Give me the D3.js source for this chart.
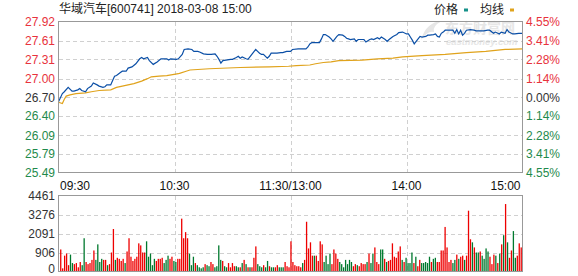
<!DOCTYPE html>
<html>
<head>
<meta charset="utf-8">
<title>华域汽车 分时</title>
<script src="https://cdn.jsdelivr.net/npm/d3@7"></script>
<style>
  body { margin: 0; background: #fff; }
  text { font-family: "Liberation Sans", Arial, "Noto Sans CJK SC", sans-serif; font-size: 12px; }
</style>
</head>
<body>
<div id="chart"></div>
<script>
// ---- data ----
const title = "华域汽车[600741] 2018-03-08 15:00";
const prevClose = 26.70;
const priceTicks = [27.92, 27.61, 27.31, 27.00, 26.70, 26.40, 26.09, 25.79, 25.49];
const pctTicks = ["4.55%", "3.41%", "2.28%", "1.14%", "0.00%", "1.14%", "2.28%", "3.41%", "4.55%"];
const volTicks = [0, 906, 2091, 3276, 4461];
const timeMinutes = [0, 60, 120, 180, 240];
const timeLabels = ["09:30", "10:30", "11:30/13:00", "14:00", "15:00"];

// [minute, price]
const pricePoints = [
  [0,26.63],[2,26.76],[3,26.79],[5,26.86],[7,26.80],[8,26.80],[10,26.82],[11,26.84],[12,26.81],[14,26.79],
  [15,26.84],[17,26.88],[18,26.93],[20,26.90],[21,26.88],[23,26.86],[24,26.87],[25,26.90],[27,26.90],[28,26.97],
  [29,27.04],[30,27.05],[32,27.10],[33,27.12],[35,27.12],[36,27.17],[38,27.19],[40,27.24],[42,27.32],[43,27.34],
  [44,27.32],[46,27.34],[47,27.29],[49,27.23],[51,27.27],[53,27.32],[56,27.32],[57,27.30],[58,27.32],[61,27.31],
  [62,27.32],[64,27.39],[65,27.47],[67,27.48],[69,27.47],[70,27.44],[72,27.44],[73,27.43],[75,27.40],[77,27.39],
  [79,27.39],[81,27.40],[82,27.36],[83,27.31],[84,27.25],[85,27.29],[89,27.31],[90,27.31],[92,27.34],[93,27.36],
  [94,27.33],[95,27.35],[97,27.32],[98,27.31],[99,27.35],[100,27.39],[102,27.47],[103,27.44],[104,27.41],[105,27.39],
  [106,27.39],[108,27.33],[109,27.36],[110,27.41],[113,27.41],[115,27.42],[116,27.42],[118,27.44],[120,27.44],[121,27.47],
  [124,27.48],[128,27.48],[129,27.51],[130,27.56],[131,27.58],[132,27.58],[135,27.58],[136,27.64],[137,27.71],[138,27.71],
  [140,27.67],[141,27.64],[142,27.60],[143,27.64],[144,27.68],[145,27.71],[147,27.70],[148,27.68],[149,27.65],[150,27.64],
  [151,27.63],[153,27.64],[154,27.60],[155,27.63],[157,27.63],[158,27.63],[159,27.59],[161,27.63],[162,27.64],[163,27.63],
  [165,27.66],[166,27.64],[167,27.67],[169,27.63],[170,27.60],[171,27.63],[173,27.68],[175,27.71],[176,27.74],[178,27.75],
  [180,27.72],[181,27.72],[182,27.67],[183,27.62],[184,27.56],[185,27.60],[186,27.64],[187,27.68],[188,27.67],[190,27.68],
  [191,27.70],[192,27.70],[194,27.71],[195,27.72],[196,27.68],[197,27.67],[198,27.73],[199,27.75],[200,27.78],[203,27.78],
  [204,27.78],[205,27.73],[206,27.79],[207,27.72],[208,27.78],[209,27.70],[210,27.73],[211,27.78],[213,27.79],[215,27.78],
  [216,27.77],[220,27.77],[222,27.78],[223,27.78],[225,27.73],[226,27.75],[228,27.72],[229,27.75],[231,27.73],[232,27.79],
  [233,27.75],[235,27.72],[236,27.72],[238,27.73],[240,27.73]
];

// [minute, average price]
const avgPoints = [
  [0,26.62],[2,26.60],[3,26.67],[4,26.72],[6,26.74],[9,26.76],[14,26.77],[17,26.79],[21,26.81],[27,26.82],
  [30,26.86],[33,26.88],[39,26.92],[43,26.96],[46,27.00],[48,27.03],[52,27.04],[56,27.05],[62,27.08],[63,27.09],
  [66,27.12],[68,27.14],[78,27.16],[94,27.18],[109,27.19],[119,27.20],[123,27.21],[130,27.22],[133,27.24],[137,27.26],
  [141,27.27],[145,27.29],[157,27.30],[165,27.32],[173,27.33],[178,27.35],[182,27.36],[188,27.37],[200,27.39],[211,27.42],
  [221,27.44],[231,27.47],[240,27.48]
];

const volumes = [
  1096,151,755,856,302,805,403,352,403,201,453,302,1795,453,352,403,554,1033,554,1414,
  453,604,554,554,302,352,906,2371,554,654,604,503,604,403,970,1795,705,503,604,705,
  1477,1350,906,906,1604,705,856,302,604,503,604,604,654,403,554,755,604,705,503,453,
  604,604,3018,1795,2177,1795,856,302,705,403,302,201,151,201,352,302,252,453,352,201,
  252,1350,554,503,252,201,403,201,403,252,252,201,201,403,554,352,201,201,201,654,
  1287,352,252,201,302,201,503,252,201,201,201,302,201,201,201,453,252,201,
  1604,453,302,252,252,201,403,554,2824,1160,1541,755,755,755,503,1604,1414,453,755,352,
  856,352,1096,856,604,453,352,201,554,352,554,453,252,352,302,252,403,352,352,453,
  856,403,856,1223,453,352,1096,1096,604,453,503,554,1477,705,654,970,1287,554,453,654,
  403,403,906,403,705,252,554,403,403,453,403,705,453,604,654,453,453,1033,1033,2500,
  1223,453,554,403,554,805,604,705,755,554,755,3513,1731,1541,1223,906,906,970,755,604,
  1160,970,705,352,805,755,403,856,1414,1985,3928,1541,654,1033,2242,654,755,1477,1223
];
// 1 = up (red), 0 = down (green)
const volUp = [
  1,1,1,1,1,0,0,1,1,1,1,0,0,1,1,1,1,1,0,0,
  0,0,1,1,0,1,1,1,0,1,1,1,1,0,1,1,1,1,1,1,
  1,1,1,1,0,0,0,0,0,1,1,1,1,0,0,0,1,1,0,0,
  1,1,1,1,1,1,0,0,0,1,0,0,0,0,1,0,0,1,1,0,
  0,0,0,1,0,0,1,1,1,1,0,0,1,0,1,0,1,0,1,1,
  1,0,0,0,1,0,0,1,0,0,1,1,0,0,0,1,1,1,
  1,1,1,1,1,1,0,1,1,1,1,1,0,1,1,1,1,0,0,0,
  0,1,1,1,1,0,0,0,0,0,0,0,1,1,0,1,1,1,1,0,
  1,0,0,1,1,1,0,0,1,0,1,1,1,1,1,1,1,0,1,0,
  0,0,0,1,0,1,1,0,0,0,0,0,1,0,0,1,1,1,1,1,
  1,1,1,0,0,1,0,1,1,0,1,1,1,0,1,0,0,1,0,0,
  0,0,1,1,1,0,1,0,1,0,1,0,1,1,0,0,1,1,1
];

// ---- layout ----
const W = 578, H = 276;
const left = 58.5, right = 522.5;
const priceTop = 21.5, priceBottom = 172.5;
const volTop = 195.5, volBottom = 271.5;
const red = "#e8323c", green = "#1f8a4c", gray = "#333";
const lineBlue = "#0b4fa6", avgGold = "#e0a31c";

const svg = d3.select("#chart").append("svg")
  .attr("width", W).attr("height", H);

const x = d3.scaleLinear().domain([0, 240]).range([left, right]);
const y = d3.scaleLinear().domain([priceTicks[priceTicks.length - 1], priceTicks[0]]).range([priceBottom, priceTop]);
const yv = d3.scaleLinear().domain(volTicks)
  .range(volTicks.map((d, i) => volBottom - i * (volBottom - volTop) / (volTicks.length - 1)));
const xb = d3.scaleBand().domain(d3.range(volumes.length)).range([left + 1, right]).padding(0.3);

function tickColor(p) {
  if (Math.abs(p - prevClose) < 0.001) return gray;
  return p > prevClose ? red : green;
}

// title + legend
svg.append("text").attr("x", 59).attr("y", 13).attr("fill", "#222").text(title);
const legend = [["价格", "#16918a", 434], ["均线", avgGold, 480]];
legend.forEach(l => {
  svg.append("text").attr("x", l[2]).attr("y", 14).attr("fill", "#222").text(l[0]);
  svg.append("rect").attr("x", l[2] + 30).attr("y", 8.5).attr("width", 4).attr("height", 3).attr("fill", l[1]);
});

// watermark
const wm = svg.append("g").attr("fill", "#e6e6e6");
wm.append("text").attr("x", 445).attr("y", 33).style("font-size", "14px").style("font-weight", "bold")
  .style("font-family", "Noto Sans CJK SC").text("东方财富网");
wm.append("text").attr("x", 446).attr("y", 45).style("font-size", "9.5px").style("font-weight", "bold")
  .style("font-style", "italic").text("eastmoney.com");
wm.append("path").attr("d", "M421,40 Q426,22 442,21 Q432,26 434,32 Q428,30 421,40 Z");

// grid
const grid = svg.append("g").attr("stroke", "#d0d0d0").attr("stroke-dasharray", "4,3")
  .attr("shape-rendering", "crispEdges");
grid.selectAll(".hp").data(priceTicks.slice(1, -1)).enter().append("line")
  .attr("x1", left).attr("x2", right)
  .attr("y1", d => Math.round(y(d)) + 0.5).attr("y2", d => Math.round(y(d)) + 0.5);
grid.selectAll(".hv").data(volTicks.slice(1, -1)).enter().append("line")
  .attr("x1", left).attr("x2", right)
  .attr("y1", d => Math.round(yv(d)) + 0.5).attr("y2", d => Math.round(yv(d)) + 0.5);
[[priceTop, priceBottom], [volTop, volBottom]].forEach(r => {
  grid.selectAll(null).data(timeMinutes.slice(1, -1)).enter().append("line")
    .attr("x1", d => Math.round(x(d)) + 0.5).attr("x2", d => Math.round(x(d)) + 0.5)
    .attr("y1", r[0]).attr("y2", r[1]);
});

// volume bars
svg.append("g").selectAll("rect").data(volumes).enter().append("rect")
  .attr("x", (d, i) => xb(i))
  .attr("width", 1.3)
  .attr("y", d => yv(d))
  .attr("height", d => volBottom - yv(d))
  .attr("fill", (d, i) => volUp[i] ? "#ee0000" : "#00792e");

// price + average lines
const line = d3.line().x(d => x(d[0])).y(d => y(d[1]));
svg.append("path").datum(avgPoints).attr("d", line)
  .attr("fill", "none").attr("stroke", avgGold).attr("stroke-width", 1.2);
svg.append("path").datum(pricePoints).attr("d", line)
  .attr("fill", "none").attr("stroke", lineBlue).attr("stroke-width", 1.2);

// frames
[[priceTop, priceBottom], [volTop, volBottom]].forEach(r => {
  svg.append("rect").attr("x", left).attr("y", r[0])
    .attr("width", right - left).attr("height", r[1] - r[0])
    .attr("fill", "none").attr("stroke", "#999").attr("shape-rendering", "crispEdges");
});

// price axis labels
svg.append("g").selectAll("text").data(priceTicks).enter().append("text")
  .attr("x", 55).attr("y", d => y(d) + 4.5)
  .attr("text-anchor", "end")
  .attr("fill", d => tickColor(d))
  .text(d => d.toFixed(2));
svg.append("g").selectAll("text").data(priceTicks).enter().append("text")
  .attr("x", 526).attr("y", d => y(d) + 4.5)
  .attr("fill", d => tickColor(d))
  .text((d, i) => pctTicks[i]);

// time labels
svg.append("g").selectAll("text").data(timeMinutes).enter().append("text")
  .attr("x", (d, i) => x(d) + (i === 0 ? 1.5 : i === timeMinutes.length - 1 ? -2 : 0))
  .attr("y", 190)
  .attr("text-anchor", (d, i) => i === 0 ? "start" : i === timeMinutes.length - 1 ? "end" : "middle")
  .attr("fill", "#111")
  .text((d, i) => timeLabels[i]);

// volume labels
svg.append("g").selectAll("text").data(volTicks).enter().append("text")
  .attr("x", 55).attr("y", d => Math.min(yv(d) + 4.5, 273))
  .attr("text-anchor", "end")
  .attr("fill", gray)
  .text(d => d);
</script>
</body>
</html>
